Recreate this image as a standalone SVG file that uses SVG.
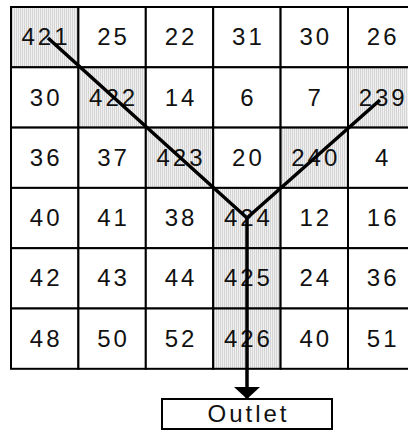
<svg xmlns="http://www.w3.org/2000/svg" width="408" height="431" viewBox="0 0 408 431">
<style>
.c{fill:#fff;stroke:#000;stroke-width:2}
.s{fill:url(#dots);stroke:#000;stroke-width:2}
.t{font-family:"Liberation Sans",Arial,sans-serif;font-size:24px;letter-spacing:3px;text-anchor:middle;fill:#111}
.p{fill:none;stroke:#000;stroke-width:3.5;stroke-linejoin:miter}
</style>
<defs>
<pattern id="dots" width="2" height="2" patternUnits="userSpaceOnUse">
<rect width="2" height="2" fill="#f0f0f0"/>
<rect width="1" height="2" fill="#d4d4d4"/>
</pattern>
<marker id="ah" viewBox="0 0 12 26" refX="12" refY="13" markerWidth="12" markerHeight="26" markerUnits="userSpaceOnUse" orient="auto">
<path d="M0,0 L12,13 L0,26 Z" fill="#000"/>
</marker>
</defs>
<rect width="408" height="431" fill="#fff"/>
<g id="grid">
<g id="r0c0"><rect class="s" x="11" y="7" width="67.4" height="60.3"/><text class="t" x="46" y="45">421</text></g>
<g id="r0c1"><rect class="c" x="78.4" y="7" width="67.4" height="60.3"/><text class="t" x="113.6" y="45">25</text></g>
<g id="r0c2"><rect class="c" x="145.8" y="7" width="67.4" height="60.3"/><text class="t" x="181" y="45">22</text></g>
<g id="r0c3"><rect class="c" x="213.2" y="7" width="67.4" height="60.3"/><text class="t" x="248.4" y="45">31</text></g>
<g id="r0c4"><rect class="c" x="280.6" y="7" width="67.4" height="60.3"/><text class="t" x="315.8" y="45">30</text></g>
<g id="r0c5"><rect class="c" x="348" y="7" width="67.4" height="60.3"/><text class="t" x="383.2" y="45">26</text></g>

<g id="r1c0"><rect class="c" x="11" y="67.3" width="67.4" height="60.3"/><text class="t" x="46.2" y="105.5">30</text></g>
<g id="r1c1"><rect class="s" x="78.4" y="67.3" width="67.4" height="60.3"/><text class="t" x="113.6" y="105.5">422</text></g>
<g id="r1c2"><rect class="c" x="145.8" y="67.3" width="67.4" height="60.3"/><text class="t" x="181" y="105.5">14</text></g>
<g id="r1c3"><rect class="c" x="213.2" y="67.3" width="67.4" height="60.3"/><text class="t" x="248.4" y="105.5">6</text></g>
<g id="r1c4"><rect class="c" x="280.6" y="67.3" width="67.4" height="60.3"/><text class="t" x="315.8" y="105.5">7</text></g>
<g id="r1c5"><rect class="s" x="348" y="67.3" width="67.4" height="60.3"/><text class="t" x="383.2" y="105.5">239</text></g>

<g id="r2c0"><rect class="c" x="11" y="127.6" width="67.4" height="60.3"/><text class="t" x="46.2" y="165.8">36</text></g>
<g id="r2c1"><rect class="c" x="78.4" y="127.6" width="67.4" height="60.3"/><text class="t" x="113.6" y="165.8">37</text></g>
<g id="r2c2"><rect class="s" x="145.8" y="127.6" width="67.4" height="60.3"/><text class="t" x="181" y="165.8">423</text></g>
<g id="r2c3"><rect class="c" x="213.2" y="127.6" width="67.4" height="60.3"/><text class="t" x="248.4" y="165.8">20</text></g>
<g id="r2c4"><rect class="s" x="280.6" y="127.6" width="67.4" height="60.3"/><text class="t" x="315.8" y="165.8">240</text></g>
<g id="r2c5"><rect class="c" x="348" y="127.6" width="67.4" height="60.3"/><text class="t" x="383.2" y="165.8">4</text></g>

<g id="r3c0"><rect class="c" x="11" y="187.9" width="67.4" height="60.3"/><text class="t" x="46.2" y="226.1">40</text></g>
<g id="r3c1"><rect class="c" x="78.4" y="187.9" width="67.4" height="60.3"/><text class="t" x="113.6" y="226.1">41</text></g>
<g id="r3c2"><rect class="c" x="145.8" y="187.9" width="67.4" height="60.3"/><text class="t" x="181" y="226.1">38</text></g>
<g id="r3c3"><rect class="s" x="213.2" y="187.9" width="67.4" height="60.3"/><text class="t" x="248.4" y="226.1">424</text></g>
<g id="r3c4"><rect class="c" x="280.6" y="187.9" width="67.4" height="60.3"/><text class="t" x="315.8" y="226.1">12</text></g>
<g id="r3c5"><rect class="c" x="348" y="187.9" width="67.4" height="60.3"/><text class="t" x="383.2" y="226.1">16</text></g>

<g id="r4c0"><rect class="c" x="11" y="248.2" width="67.4" height="60.3"/><text class="t" x="46.2" y="286.4">42</text></g>
<g id="r4c1"><rect class="c" x="78.4" y="248.2" width="67.4" height="60.3"/><text class="t" x="113.6" y="286.4">43</text></g>
<g id="r4c2"><rect class="c" x="145.8" y="248.2" width="67.4" height="60.3"/><text class="t" x="181" y="286.4">44</text></g>
<g id="r4c3"><rect class="s" x="213.2" y="248.2" width="67.4" height="60.3"/><text class="t" x="248.4" y="286.4">425</text></g>
<g id="r4c4"><rect class="c" x="280.6" y="248.2" width="67.4" height="60.3"/><text class="t" x="315.8" y="286.4">24</text></g>
<g id="r4c5"><rect class="c" x="348" y="248.2" width="67.4" height="60.3"/><text class="t" x="383.2" y="286.4">36</text></g>

<g id="r5c0"><rect class="c" x="11" y="308.5" width="67.4" height="60.3"/><text class="t" x="46.2" y="346.7">48</text></g>
<g id="r5c1"><rect class="c" x="78.4" y="308.5" width="67.4" height="60.3"/><text class="t" x="113.6" y="346.7">50</text></g>
<g id="r5c2"><rect class="c" x="145.8" y="308.5" width="67.4" height="60.3"/><text class="t" x="181" y="346.7">52</text></g>
<g id="r5c3"><rect class="s" x="213.2" y="308.5" width="67.4" height="60.3"/><text class="t" x="248.4" y="346.7">426</text></g>
<g id="r5c4"><rect class="c" x="280.6" y="308.5" width="67.4" height="60.3"/><text class="t" x="315.8" y="346.7">40</text></g>
<g id="r5c5"><rect class="c" x="348" y="308.5" width="67.4" height="60.3"/><text class="t" x="383.2" y="346.7">51</text></g>
</g>
<g id="outlet">
<rect x="162" y="399" width="170" height="30" fill="#fff" stroke="#000" stroke-width="2"/>
<text class="t" x="248.5" y="422">Outlet</text>
</g>
<g id="connectors">
<polyline class="p" points="48,38 247,218 380,100"/>
<line class="p" x1="247" y1="218" x2="247" y2="399" marker-end="url(#ah)"/>
</g>
</svg>
